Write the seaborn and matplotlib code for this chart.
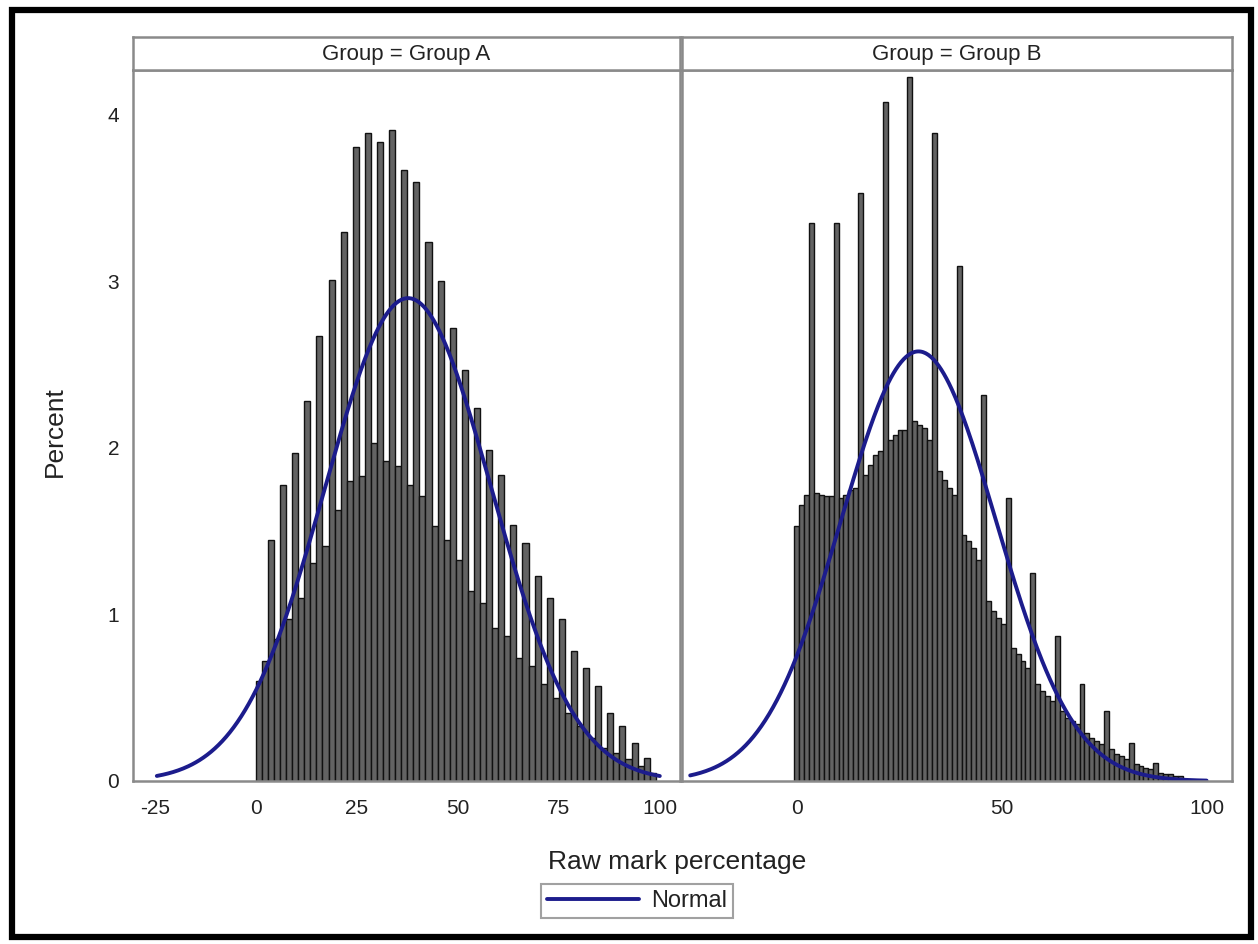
import numpy as np
import pandas as pd
import matplotlib
matplotlib.use('Agg')
import matplotlib.pyplot as plt
import seaborn as sns
from matplotlib.lines import Line2D
from matplotlib.patches import Rectangle

# panel names
groups = ['Group A', 'Group B']

# Group A: percent per bin, bins of width 1.5 starting at 0
a_bin_width = 1.5
a_heights = [0.60, 0.72, 1.45, 0.85, 1.78, 0.97, 1.97, 1.10, 2.28, 1.31,
             2.67, 1.41, 3.01, 1.63, 3.30, 1.80, 3.81, 1.83, 3.89, 2.03,
             3.84, 1.92, 3.91, 1.89, 3.67, 1.78, 3.60, 1.71, 3.24, 1.53,
             3.00, 1.45, 2.72, 1.33, 2.47, 1.14, 2.24, 1.07, 1.99, 0.92,
             1.84, 0.87, 1.54, 0.74, 1.43, 0.69, 1.23, 0.58, 1.10, 0.50,
             0.97, 0.41, 0.78, 0.33, 0.68, 0.26, 0.57, 0.20, 0.41, 0.17,
             0.33, 0.13, 0.23, 0.09, 0.14, 0.05]

# Group B: percent per bin, bins of width 1.2 centred on 0, 1.2, 2.4, ...
b_bin_width = 1.2
b_heights = [1.53, 1.66, 1.72, 3.35, 1.73, 1.72, 1.71, 1.71, 3.35, 1.70,
             1.72, 1.75, 1.76, 3.53, 1.84, 1.90, 1.96, 1.98, 4.08, 2.05,
             2.08, 2.11, 2.11, 4.23, 2.16, 2.14, 2.12, 2.05, 3.89, 1.86,
             1.81, 1.76, 1.72, 3.09, 1.48, 1.44, 1.40, 1.33, 2.32, 1.08,
             1.02, 0.98, 0.94, 1.70, 0.80, 0.76, 0.72, 0.68, 1.25, 0.58,
             0.54, 0.51, 0.48, 0.87, 0.42, 0.38, 0.36, 0.34, 0.58, 0.29,
             0.26, 0.24, 0.22, 0.42, 0.19, 0.16, 0.15, 0.13, 0.23, 0.10,
             0.09, 0.08, 0.07, 0.11, 0.05, 0.04, 0.04, 0.03, 0.03]

# fitted normal curves (mean, sd, peak in percent, drawn range)
a_normal = [37.7, 20.6, 2.90]
b_normal = [29.7, 18.9, 2.58]
a_curve_range = [-24.5, 100]
b_curve_range = [-26, 100]

a_xticks = [-25, 0, 25, 50, 75, 100]
b_xticks = [0, 50, 100]
yticks = [0, 1, 2, 3, 4]

sns.set_style('white')
plt.rcParams['font.family'] = ['Liberation Sans', 'DejaVu Sans']

W, H = 1258, 944
fig = plt.figure(figsize=(W / 100, H / 100), dpi=100)

frame_col = '#8a8a8a'
bar_col = '#636363'
curve_col = '#1c1c8c'
text_col = '#222222'

a_edges = np.arange(len(a_heights) + 1) * a_bin_width
b_edges = (np.arange(len(b_heights) + 1) - 0.5) * b_bin_width
a_df = pd.DataFrame({'mark': a_edges[:-1] + a_bin_width / 2, 'pct': a_heights})
b_df = pd.DataFrame({'mark': b_edges[:-1] + b_bin_width / 2, 'pct': b_heights})

panels = [
    dict(left=133, right=680, df=a_df, edges=a_edges,
         normal=a_normal, crange=a_curve_range, xticks=a_xticks, xlim=(-30.4, 105.0)),
    dict(left=682, right=1232, df=b_df, edges=b_edges,
         normal=b_normal, crange=b_curve_range, xticks=b_xticks, xlim=(-28.0, 106.2)),
]

top_px, bottom_px, head_px = 70, 781, 37
for i, (g, p) in enumerate(zip(groups, panels)):
    x0 = p['left'] / W
    w = (p['right'] - p['left']) / W
    ax = fig.add_axes([x0, 1 - bottom_px / H, w, (bottom_px - top_px) / H])
    sns.histplot(data=p['df'], x='mark', weights='pct', bins=list(p['edges']), ax=ax,
                 color=bar_col, edgecolor='#111111', linewidth=1.0, alpha=1)
    mu, sd, peak = p['normal']
    xs = np.linspace(p['crange'][0], p['crange'][1], 400)
    ys = peak * np.exp(-0.5 * ((xs - mu) / sd) ** 2)
    sns.lineplot(x=xs, y=ys, ax=ax, color=curve_col, linewidth=2.8)
    ax.set_xlim(*p['xlim'])
    ax.set_ylim(0, 4.27)
    ax.set_xticks(p['xticks'])
    ax.set_xticklabels([str(t) for t in p['xticks']])
    ax.set_xlabel('')
    ax.set_ylabel('')
    for s in ax.spines.values():
        s.set_color(frame_col)
        s.set_linewidth(1.8)
    ax.tick_params(axis='x', direction='out', length=7, width=1.2, color=frame_col,
                   labelsize=15, labelcolor=text_col, pad=6)
    if i == 0:
        ax.set_yticks(yticks)
        ax.set_yticklabels([str(t) for t in yticks])
        ax.tick_params(axis='y', direction='out', length=7, width=1.2, color=frame_col,
                       labelsize=15, labelcolor=text_col, pad=3)
    else:
        ax.set_yticks([])
    # header strip
    hax = fig.add_axes([x0, 1 - top_px / H, w, (top_px - head_px) / H])
    hax.set_xticks([])
    hax.set_yticks([])
    for s in hax.spines.values():
        s.set_color(frame_col)
        s.set_linewidth(1.8)
    hax.text(0.5, 0.47, 'Group = ' + g, ha='center', va='center', fontsize=16,
             color=text_col, transform=hax.transAxes)

fig.text(677 / W, 1 - 862 / H, 'Raw mark percentage', ha='center', va='center',
         fontsize=19, color=text_col)
fig.text(55 / W, 1 - 432 / H, 'Percent', ha='center', va='center', rotation=90,
         fontsize=19, color=text_col)

handle = Line2D([], [], color=curve_col, linewidth=2.8)
leg = fig.legend(handles=[handle], labels=['Normal'], loc='center',
                 bbox_to_anchor=(637 / W, 1 - 901 / H), frameon=True, fancybox=False,
                 edgecolor=frame_col, fontsize=17, handlelength=3.9, borderpad=0.25,
                 handletextpad=0.5, borderaxespad=0)
leg.get_frame().set_linewidth(1.5)
for t in leg.get_texts():
    t.set_color(text_col)

# outer black border
fig.add_artist(Rectangle((12 / W, 7 / H), (1251 - 12) / W, (934 - 7) / H,
                         transform=fig.transFigure, fill=False, lw=4.5, ec='black'))

fig.savefig('out.png', dpi=100)
